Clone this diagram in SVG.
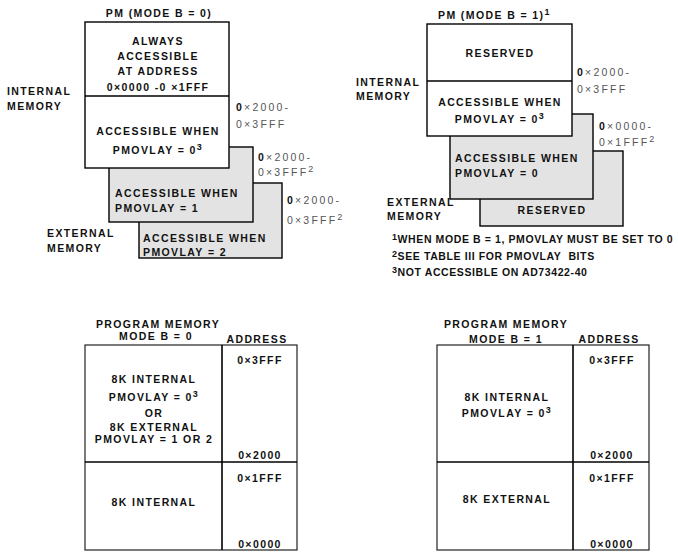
<svg xmlns="http://www.w3.org/2000/svg" width="678" height="553" viewBox="0 0 678 553">
<style>
text{font-family:"Liberation Sans",Arial,sans-serif;font-size:10.5px;font-weight:bold;fill:#111;letter-spacing:1.4px}
.m{text-anchor:middle}
.a{font-weight:normal;fill:#555;letter-spacing:2.2px}
.a .b{font-weight:bold;fill:#111}
.fn{letter-spacing:0.6px}
.sup{font-size:9px}
.box{fill:#fff;stroke:#000;stroke-width:1.4}
.gray{fill:#e3e3e3;stroke:#000;stroke-width:1.4}
.ln{stroke:#000;stroke-width:1.6;fill:none}
.tb{fill:#fff;stroke:#222;stroke-width:1.2}
</style>
<rect width="678" height="553" fill="#fff"/>

<!-- Top-left: PM (MODE B = 0) -->
<g id="pm-modeb0">
  <text class="m" x="159" y="17">PM (MODE B = 0)</text>
  <text x="7" y="95">INTERNAL</text>
  <text x="7" y="110">MEMORY</text>
  <text x="47" y="237">EXTERNAL</text>
  <text x="47" y="252">MEMORY</text>
</g>
<g id="b0-ext2">
  <rect class="gray" x="139" y="183" width="143" height="75"/>
  <text x="143" y="242">ACCESSIBLE WHEN</text>
  <text x="143" y="256">PMOVLAY = 2</text>
  <text class="a" x="287" y="204"><tspan class="b">0</tspan>×2000-</text>
  <text class="a" x="287" y="224">0×3FFF<tspan class="sup" dy="-4.5">2</tspan></text>
</g>
<g id="b0-ext1">
  <rect class="gray" x="109" y="147" width="144" height="75"/>
  <text x="115" y="197">ACCESSIBLE WHEN</text>
  <text x="115" y="212">PMOVLAY = 1</text>
  <text class="a" x="258" y="161"><tspan class="b">0</tspan>×2000-</text>
  <text class="a" x="258" y="176">0×3FFF<tspan class="sup" dy="-4.5">2</tspan></text>
</g>
<g id="b0-internal">
  <rect class="box" x="85" y="22" width="144" height="146"/>
  <line class="ln" x1="85" y1="96" x2="229" y2="96"/>
  <text class="m" x="158" y="45">ALWAYS</text>
  <text class="m" x="158" y="60">ACCESSIBLE</text>
  <text class="m" x="158" y="75">AT ADDRESS</text>
  <text class="m" x="158" y="91">0×0000 -0 ×1FFF</text>
  <text class="m" x="158" y="135">ACCESSIBLE WHEN</text>
  <text class="m" x="158" y="154">PMOVLAY = 0<tspan class="sup" dy="-4.5">3</tspan></text>
  <text class="a" x="236" y="111"><tspan class="b">0</tspan>×2000-</text>
  <text class="a" x="236" y="128">0×3FFF</text>
</g>

<!-- Top-right: PM (MODE B = 1) -->
<g id="pm-modeb1">
  <text x="438" y="19">PM (MODE B = 1)<tspan class="sup" dy="-4.5">1</tspan></text>
  <text x="356" y="86">INTERNAL</text>
  <text x="356" y="100">MEMORY</text>
  <text x="387" y="206">EXTERNAL</text>
  <text x="387" y="220">MEMORY</text>
</g>
<g id="b1-ext-reserved">
  <rect class="gray" x="480" y="151" width="143" height="75"/>
  <text class="m" x="552" y="214">RESERVED</text>
</g>
<g id="b1-ext0">
  <rect class="gray" x="450" y="114" width="143" height="85"/>
  <text x="455" y="162">ACCESSIBLE WHEN</text>
  <text x="455" y="177">PMOVLAY = 0</text>
  <text class="a" x="599" y="130"><tspan class="b">0</tspan>×0000-</text>
  <text class="a" x="599" y="146">0×1FFF<tspan class="sup" dy="-4.5">2</tspan></text>
</g>
<g id="b1-internal">
  <rect class="box" x="427" y="24" width="145" height="112"/>
  <line class="ln" x1="427" y1="81" x2="572" y2="81"/>
  <text class="m" x="500" y="57">RESERVED</text>
  <text class="m" x="500" y="106">ACCESSIBLE WHEN</text>
  <text class="m" x="500" y="123">PMOVLAY = 0<tspan class="sup" dy="-4.5">3</tspan></text>
  <text class="a" x="577" y="76"><tspan class="b">0</tspan>×2000-</text>
  <text class="a" x="577" y="93">0×3FFF</text>
</g>

<g id="footnotes">
  <text class="fn" x="392" y="243"><tspan class="sup" dy="-3.5">1</tspan><tspan dy="3.5">WHEN MODE B = 1, PMOVLAY MUST BE SET TO 0</tspan></text>
  <text class="fn" x="392" y="260"><tspan class="sup" dy="-3.5">2</tspan><tspan dy="3.5">SEE TABLE III FOR PMOVLAY&#160; BITS</tspan></text>
  <text class="fn" x="392" y="276"><tspan class="sup" dy="-3.5">3</tspan><tspan dy="3.5">NOT ACCESSIBLE ON AD73422-40</tspan></text>
</g>

<!-- Bottom-left table -->
<g id="table-modeb0">
  <text class="m" x="158" y="328">PROGRAM MEMORY</text>
  <text class="m" x="156" y="340">MODE B = 0</text>
  <text class="m" x="257" y="343">ADDRESS</text>
  <rect class="tb" x="85" y="345" width="212" height="205"/>
  <line class="ln" x1="222" y1="345" x2="222" y2="550"/>
  <line class="ln" x1="85" y1="462" x2="297" y2="462"/>
  <text class="m" x="154" y="383">8K INTERNAL</text>
  <text class="m" x="154" y="401">PMOVLAY = 0<tspan class="sup" dy="-4.5">3</tspan></text>
  <text class="m" x="154" y="417">OR</text>
  <text class="m" x="154" y="431">8K EXTERNAL</text>
  <text class="m" x="154" y="443">PMOVLAY = 1 OR 2</text>
  <text class="m" x="154" y="506">8K INTERNAL</text>
  <text class="m" x="260" y="364">0×3FFF</text>
  <text class="m" x="260" y="459">0×2000</text>
  <text class="m" x="260" y="482">0×1FFF</text>
  <text class="m" x="260" y="547.5">0×0000</text>
</g>

<!-- Bottom-right table -->
<g id="table-modeb1">
  <text class="m" x="506" y="328">PROGRAM MEMORY</text>
  <text class="m" x="506" y="342.5">MODE B = 1</text>
  <text class="m" x="609" y="343">ADDRESS</text>
  <rect class="tb" x="437" y="345" width="212" height="205"/>
  <line class="ln" x1="573" y1="345" x2="573" y2="550"/>
  <line class="ln" x1="437" y1="462" x2="649" y2="462"/>
  <text class="m" x="507" y="401">8K INTERNAL</text>
  <text class="m" x="507" y="417">PMOVLAY = 0<tspan class="sup" dy="-4.5">3</tspan></text>
  <text class="m" x="507" y="503">8K EXTERNAL</text>
  <text class="m" x="612" y="364">0×3FFF</text>
  <text class="m" x="612" y="459">0×2000</text>
  <text class="m" x="612" y="482">0×1FFF</text>
  <text class="m" x="612" y="547.5">0×0000</text>
</g>

<g id="connectors"></g>
</svg>
